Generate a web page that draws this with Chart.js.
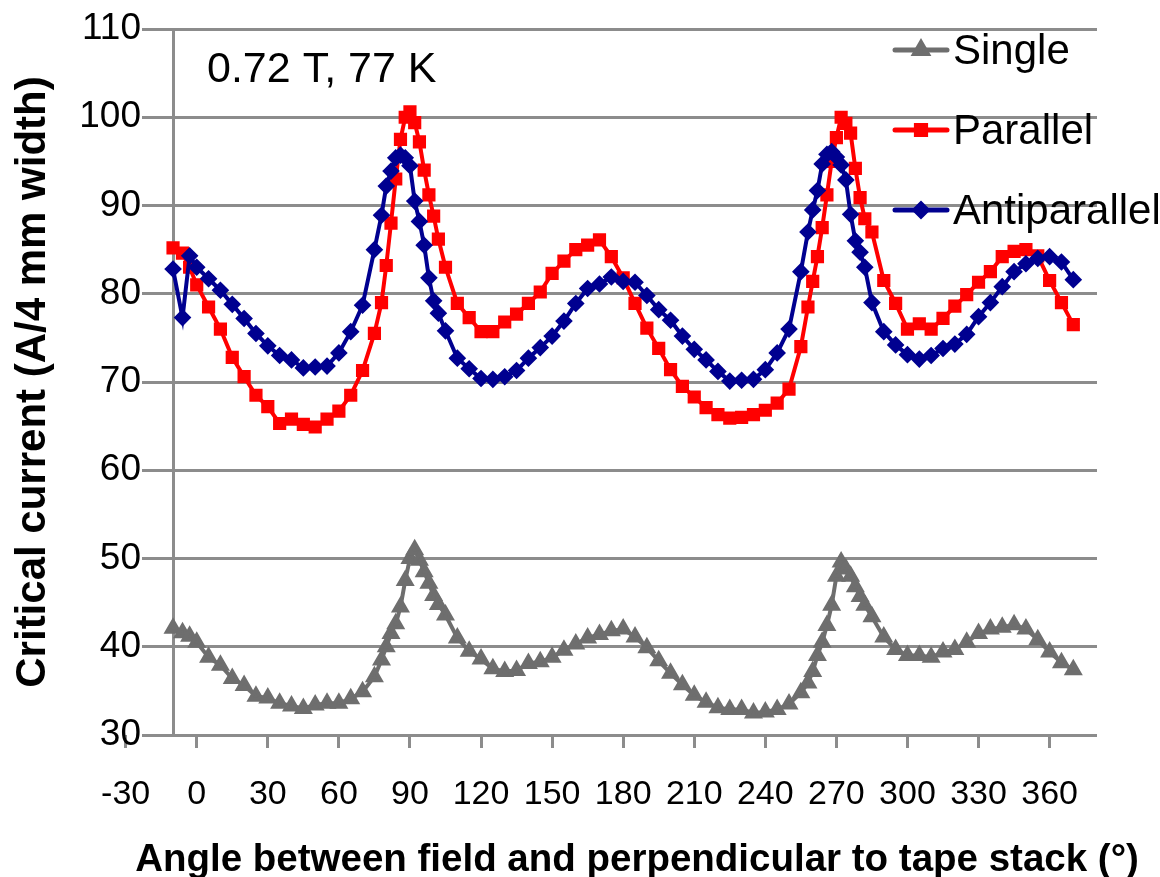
<!DOCTYPE html>
<html>
<head>
<meta charset="utf-8">
<script src="https://cdn.jsdelivr.net/npm/chart.js@4.4.1/dist/chart.umd.min.js"></script>
<style>
  html, body { margin: 0; padding: 0; background: #fff; }
</style>
</head>
<body>
<canvas id="chart" width="1160" height="877"></canvas>
<script>
// measurement angles (deg), shared by all three curves
const angles = [
  -10, -6, -3, 0,
  5, 10, 15, 20, 25, 30, 35, 40, 45, 50, 55, 60, 65, 70, 75,
  78, 80, 82, 84, 86, 88, 90, 92, 94, 96, 98, 100, 102,
  105, 110, 115, 120, 125, 130, 135, 140, 145, 150, 155, 160, 165, 170, 175, 180,
  185, 190, 195, 200, 205, 210, 215, 220, 225, 230, 235, 240, 245, 250, 255,
  258, 260, 262, 264, 266, 268, 270, 272, 274, 276, 278, 280, 282,
  285, 290, 295, 300, 305, 310, 315, 320, 325, 330, 335, 340, 345, 350, 355, 360, 365, 370
];

const single = [
  42.1, 41.6, 41.2, 40.5,
  38.8, 37.9, 36.4, 35.6, 34.4, 34.2, 33.6, 33.3, 33.0, 33.4, 33.6, 33.6, 34.1, 34.9, 36.6,
  38.5, 40.0, 41.5, 42.6, 44.5, 47.5, 50.0, 51.0, 49.8, 48.5, 47.2, 45.8, 44.8,
  43.6, 41.0, 39.5, 38.6, 37.5, 37.2, 37.3, 38.1, 38.3, 38.8, 39.6, 40.3, 41.0, 41.4, 41.8, 42.0,
  41.1, 39.9, 38.4, 37.0, 35.7, 34.5, 33.7, 33.1, 32.9, 32.9, 32.5, 32.6, 32.9, 33.5, 34.8,
  35.9, 37.2, 39.0, 40.5, 42.4, 44.7, 48.0, 49.6, 48.8, 48.0, 46.8, 45.7, 44.7,
  43.4, 41.1, 39.7, 39.0, 39.0, 38.8, 39.4, 39.7, 40.5, 41.5, 42.0, 42.2, 42.5, 42.0, 40.8, 39.4, 38.2, 37.4
];

const parallel = [
  85.2, 84.6, 83.0, 81.0,
  78.5, 76.0, 72.8, 70.6, 68.5, 67.2, 65.3, 65.8, 65.2, 64.9, 65.8, 66.7, 68.5, 71.3, 75.5,
  79.0, 83.2, 88.0, 93.0, 97.5, 100.0, 100.6, 99.4, 97.2, 94.0, 91.2, 88.8, 86.2,
  83.0, 78.9, 77.3, 75.7, 75.7, 76.8, 77.7, 78.9, 80.2, 82.3, 83.7, 85.0, 85.5, 86.1, 84.2, 81.8,
  78.9, 76.1, 73.8, 71.4, 69.5, 68.3, 67.1, 66.3, 65.9, 66.0, 66.3, 66.8, 67.6, 69.2, 74.0,
  78.5, 81.4, 84.2, 87.5, 91.2, 95.0, 97.7, 100.0, 99.3, 98.2, 94.2, 90.9, 88.5,
  87.0, 81.5, 78.9, 76.0, 76.6, 76.0, 77.2, 78.6, 79.9, 81.3, 82.5, 84.2, 84.8, 85.0, 84.3, 81.5, 79.0, 76.5
];

const antiparallel = [
  82.8, 77.3, 84.3, 83.0,
  81.7, 80.4, 78.8, 77.2, 75.5, 74.1, 73.0, 72.5, 71.6, 71.7, 71.8, 73.3, 75.7, 78.7, 85.0,
  88.9, 92.2, 93.9, 95.4, 95.7, 95.4, 94.5, 90.5, 88.2, 85.5, 81.8, 79.2, 77.8,
  75.8, 72.7, 71.5, 70.4, 70.3, 70.6, 71.3, 72.7, 73.9, 75.2, 76.9, 78.9, 80.6, 81.1, 81.9, 81.4,
  81.3, 79.8, 78.2, 77.0, 75.2, 73.7, 72.5, 71.2, 70.1, 70.2, 70.3, 71.4, 73.3, 76.0, 82.5,
  87.0, 89.5, 91.7, 94.7, 95.8, 96.1, 95.5, 94.6, 92.9, 89.0, 86.0, 84.7, 83.0,
  79.0, 75.7, 74.2, 73.1, 72.6, 73.0, 73.8, 74.3, 75.4, 77.4, 79.0, 80.8, 82.5, 83.4, 84.0, 84.2, 83.6, 81.6
];

const xTickValues = [-30, 0, 30, 60, 90, 120, 150, 180, 210, 240, 270, 300, 330, 360];
const seriesNames = ["Single", "Parallel", "Antiparallel"];
const note = "0.72 T, 77 K";
const xTitle = "Angle between field and perpendicular to tape stack (°)";
const yTitle = "Critical current (A/4 mm width)";

const FONT = "'Liberation Sans', Arial, sans-serif";
const GRID = "#8c8c8c";
const yAxisAt = -10;   // where the vertical axis crosses

function points(values) {
  return angles.map((a, i) => ({ x: a, y: values[i] }));
}

// y axis line at -10, note, x title and the legend drawn inside the plot
const extras = {
  id: "extras",
  beforeDatasetsDraw(chart) {
    const { ctx, chartArea, scales } = chart;
    const x = Math.round(scales.x.getPixelForValue(yAxisAt)) + 0.5;
    ctx.save();
    ctx.strokeStyle = GRID;
    ctx.lineWidth = 3;
    ctx.beginPath();
    ctx.moveTo(x, chartArea.top);
    ctx.lineTo(x, chartArea.bottom);
    ctx.stroke();
    ctx.restore();
  },
  afterDraw(chart) {
    const { ctx } = chart;
    ctx.save();
    ctx.fillStyle = "#000";
    ctx.font = "43px " + FONT;
    ctx.textBaseline = "alphabetic";
    ctx.textAlign = "left";
    ctx.fillText(note, 207, 82);

    ctx.font = "bold 38.5px " + FONT;
    ctx.textAlign = "center";
    ctx.fillText(xTitle, 637, 871);

    // legend
    const order = [2, 1, 0];
    ctx.font = "42px " + FONT;
    ctx.textAlign = "left";
    ctx.textBaseline = "middle";
    order.forEach((di, row) => {
      const ds = chart.data.datasets[di];
      const y = 50 + row * 80;
      ctx.strokeStyle = ds.borderColor;
      ctx.lineWidth = 5;
      ctx.lineCap = "round";
      ctx.beginPath();
      ctx.moveTo(895, y);
      ctx.lineTo(947, y);
      ctx.stroke();
      ctx.fillStyle = ds.pointBackgroundColor;
      ctx.strokeStyle = ds.pointBorderColor;
      Chart.helpers.drawPoint(ctx, {
        pointStyle: ds.pointStyle, radius: ds.pointRadius, rotation: 0, borderWidth: 1
      }, 921, y);
      ctx.fillStyle = "#000";
      ctx.fillText(ds.label, 953, y + 2);
    });
    ctx.restore();
  }
};

new Chart(document.getElementById("chart"), {
  type: "line",
  data: {
    datasets: [
      {
        label: seriesNames[2],
        data: points(antiparallel),
        borderColor: "#000090",
        backgroundColor: "#000090",
        pointBackgroundColor: "#000090",
        pointBorderColor: "#000090",
        pointStyle: "rectRot",
        pointRadius: 6,
        borderWidth: 4,
        order: 0
      },
      {
        label: seriesNames[1],
        data: points(parallel),
        borderColor: "#ff0000",
        backgroundColor: "#ff0000",
        pointBackgroundColor: "#ff0000",
        pointBorderColor: "#ff0000",
        pointStyle: "rect",
        pointRadius: 6.5,
        borderWidth: 4,
        order: 1
      },
      {
        label: seriesNames[0],
        data: points(single),
        borderColor: "#6e6e6e",
        backgroundColor: "#6e6e6e",
        pointBackgroundColor: "#6e6e6e",
        pointBorderColor: "#6e6e6e",
        pointStyle: "triangle",
        pointRadius: 7,
        borderWidth: 4,
        order: 2
      }
    ]
  },
  options: {
    responsive: false,
    animation: false,
    events: [],
    layout: { padding: { left: 0, top: 29, right: 63, bottom: 0 } },
    plugins: {
      legend: { display: false },
      tooltip: { enabled: false }
    },
    elements: { line: { tension: 0 } },
    scales: {
      x: {
        type: "linear",
        min: -23.1,
        max: 380,
        afterBuildTicks(scale) {
          scale.ticks = xTickValues.map(v => ({ value: v }));
        },
        afterFit(scale) { scale.height = 142; },
        border: { display: false },
        grid: {
          drawOnChartArea: false,
          drawTicks: true,
          tickLength: 13,
          color: GRID,
          lineWidth: 3
        },
        ticks: {
          autoSkip: false,
          maxRotation: 0,
          padding: 26,
          color: "#000",
          font: { family: FONT, size: 34 }
        }
      },
      y: {
        min: 30,
        max: 110,
        afterFit(scale) { scale.width = 142; },
        border: { display: false },
        grid: {
          color: GRID,
          lineWidth: 3,
          drawTicks: false
        },
        ticks: {
          stepSize: 10,
          padding: 1,
          color: "#000",
          font: { family: FONT, size: 37 }
        },
        title: {
          display: true,
          text: yTitle,
          color: "#000",
          font: { family: FONT, size: 42, weight: "bold", lineHeight: 1 },
          padding: { top: 12, bottom: 0 }
        }
      }
    }
  },
  plugins: [extras]
});
</script>
</body>
</html>
